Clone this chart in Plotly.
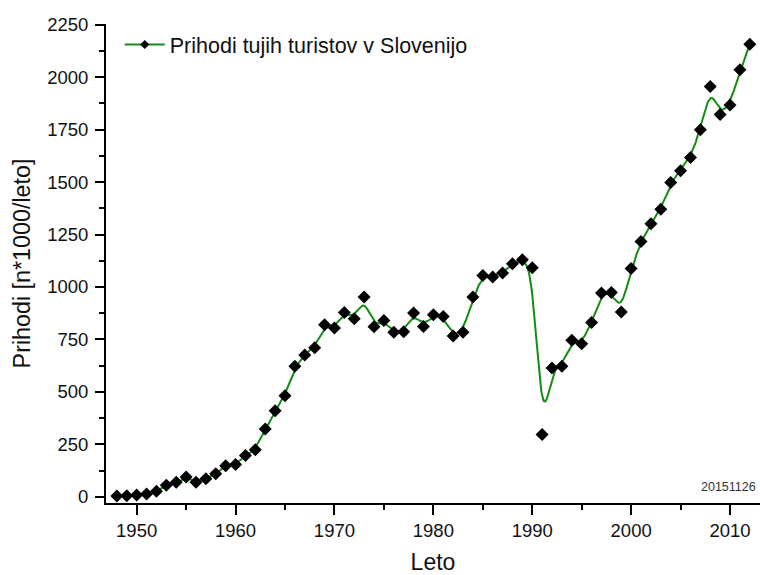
import numpy as np
import plotly.graph_objects as go

years = list(range(1948, 2013))
arrivals = [4, 6, 9, 14, 27, 55, 70, 95, 70, 87, 110, 149, 154, 197, 225, 323, 410, 482,
            622, 676, 711, 820, 805, 879, 849, 952, 811, 841, 784, 787, 876, 812, 868, 860,
            767, 784, 952, 1055, 1048, 1067, 1111, 1130, 1092, 297, 614, 622, 746, 730, 831,
            971, 974, 881, 1088, 1217, 1301, 1371, 1498, 1554, 1617, 1749, 1955, 1822, 1867,
            2035, 2157]

series_name = "Prihodi tujih turistov v Slovenijo"
x_ticks = [1950, 1960, 1970, 1980, 1990, 2000, 2010]
y_ticks = [0, 250, 500, 750, 1000, 1250, 1500, 1750, 2000, 2250]


def bspline(px, py, n=20):
    # uniform cubic B-spline with clamped (tripled) end control points
    px = np.concatenate([[px[0]] * 2, px, [px[-1]] * 2]).astype(float)
    py = np.concatenate([[py[0]] * 2, py, [py[-1]] * 2]).astype(float)
    xs, ys = [], []
    t = np.linspace(0, 1, n, endpoint=False)
    b0 = (1 - t) ** 3 / 6
    b1 = (3 * t ** 3 - 6 * t ** 2 + 4) / 6
    b2 = (-3 * t ** 3 + 3 * t ** 2 + 3 * t + 1) / 6
    b3 = t ** 3 / 6
    for i in range(len(px) - 3):
        xs.append(b0 * px[i] + b1 * px[i + 1] + b2 * px[i + 2] + b3 * px[i + 3])
        ys.append(b0 * py[i] + b1 * py[i + 1] + b2 * py[i + 2] + b3 * py[i + 3])
    xs.append([px[-1]])
    ys.append([py[-1]])
    return np.concatenate(xs), np.concatenate(ys)


cx, cy = bspline(np.array(years), np.array(arrivals))

GREEN = "#138c13"
FONT = "Liberation Sans, Arial, sans-serif"

fig = go.Figure()
fig.add_trace(go.Scatter(x=cx, y=cy, mode="lines", line=dict(color=GREEN, width=2),
                         showlegend=False, hoverinfo="skip"))
fig.add_trace(go.Scatter(x=years, y=arrivals, mode="markers",
                         marker=dict(symbol="diamond", size=10, color="black"),
                         showlegend=False))
fig.add_trace(go.Scatter(x=[None], y=[None], mode="lines+markers", name=series_name,
                         line=dict(color=GREEN, width=2),
                         marker=dict(symbol="diamond", size=7, color="black")))

axis_font = dict(family=FONT, size=18.5, color="#111")

fig.update_layout(
    width=760, height=575,
    margin=dict(l=106, r=0, t=24, b=72),
    paper_bgcolor="white", plot_bgcolor="white",
    font=dict(family=FONT, color="#111"),
    showlegend=True,
    legend=dict(x=0.021, y=1.0, xanchor="left", yanchor="top", bgcolor="rgba(0,0,0,0)",
                font=dict(size=21.5, color="#111"), itemwidth=40),
    xaxis=dict(range=[1946.9, 2013.03], tickvals=x_ticks, ticks="outside", ticklen=10,
               tickwidth=2, tickcolor="black", showline=True, linecolor="black",
               linewidth=2, showgrid=False, zeroline=False, tickfont=axis_font,
               minor=dict(dtick=5, tick0=1945, ticks="outside", ticklen=5, tickwidth=2,
                          tickcolor="black", showgrid=False),
               title=dict(text="Leto", font=dict(size=23, color="#111"), standoff=14)),
    yaxis=dict(range=[-29, 2253], tickvals=y_ticks, ticks="outside", ticklen=9,
               tickwidth=2, tickcolor="black", showline=True, linecolor="black",
               linewidth=2, showgrid=False, zeroline=False, tickfont=axis_font,
               ticklabelstandoff=3,
               minor=dict(dtick=125, tick0=0, ticks="outside", ticklen=5, tickwidth=2,
                          tickcolor="black", showgrid=False),
               title=dict(text="Prihodi [n*1000/leto]", font=dict(size=23.3, color="#111"),
                          standoff=10)),
)

fig.add_annotation(text="20151126", xref="paper", yref="paper", x=0.997, y=0.015,
                   xanchor="right", yanchor="bottom", showarrow=False,
                   font=dict(size=12.5, color="#333"))

fig.write_html("out.html")
